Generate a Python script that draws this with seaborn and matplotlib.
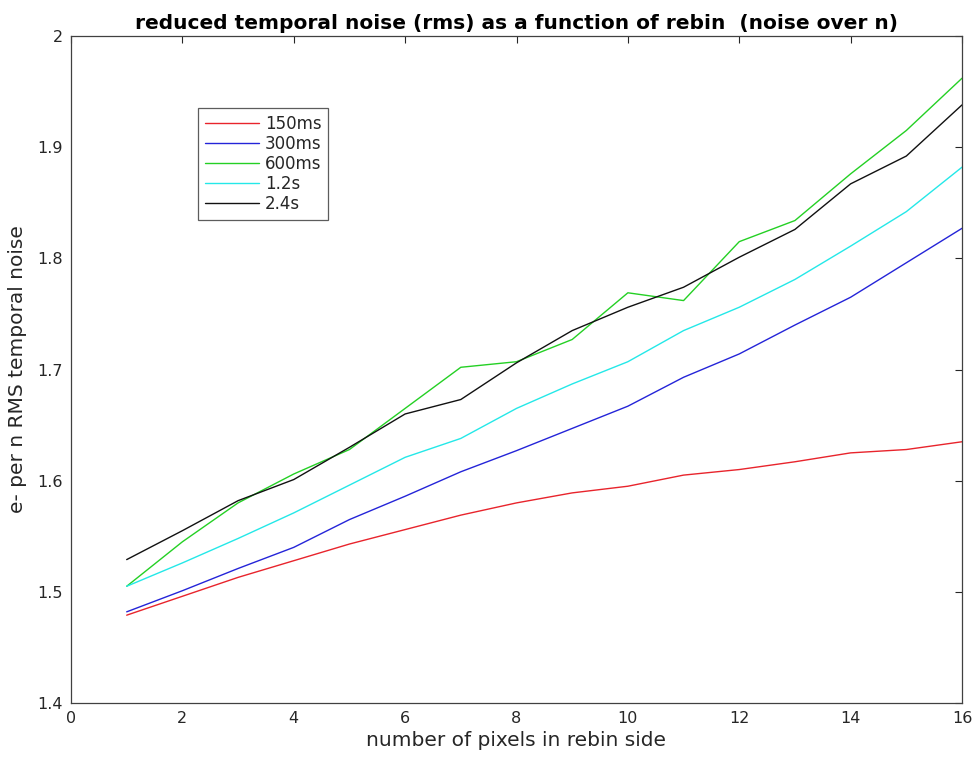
import matplotlib
matplotlib.use("Agg")
import matplotlib.pyplot as plt
import seaborn as sns
import pandas as pd

rebin = list(range(1, 17))
series_names = ["150ms", "300ms", "600ms", "1.2s", "2.4s"]
noise_150ms = [1.479, 1.496, 1.513, 1.528, 1.543, 1.556, 1.569, 1.580, 1.589, 1.595, 1.605, 1.610, 1.617, 1.625, 1.628, 1.635]
noise_300ms = [1.482, 1.501, 1.521, 1.540, 1.565, 1.586, 1.608, 1.627, 1.647, 1.667, 1.693, 1.714, 1.740, 1.765, 1.796, 1.827]
noise_600ms = [1.505, 1.545, 1.580, 1.606, 1.628, 1.665, 1.702, 1.707, 1.727, 1.769, 1.762, 1.815, 1.834, 1.876, 1.915, 1.962]
noise_1_2s = [1.505, 1.526, 1.548, 1.571, 1.596, 1.621, 1.638, 1.665, 1.687, 1.707, 1.735, 1.756, 1.781, 1.811, 1.842, 1.882]
noise_2_4s = [1.529, 1.555, 1.582, 1.601, 1.630, 1.660, 1.673, 1.706, 1.735, 1.756, 1.774, 1.801, 1.826, 1.867, 1.892, 1.938]

colors = {"150ms": "#e8242c", "300ms": "#2424d8", "600ms": "#24d024", "1.2s": "#24e8e8", "2.4s": "#111111"}

rows = []
for name, vals in zip(series_names, [noise_150ms, noise_300ms, noise_600ms, noise_1_2s, noise_2_4s]):
    for x, v in zip(rebin, vals):
        rows.append({"rebin": x, "noise": v, "series": name})
df = pd.DataFrame(rows)

sns.set_style("white")
plt.rcParams["font.family"] = ["DejaVu Sans"]

fig = plt.figure(figsize=(9.76, 7.6), dpi=100)
ax = fig.add_axes([71/976, 1 - 703/760, 891/976, 667/760])

sns.lineplot(data=df, x="rebin", y="noise", hue="series", hue_order=series_names,
             palette=colors, linewidth=1.0, ax=ax, legend=True)

ax.set_xlim(0, 16)
ax.set_ylim(1.4, 2.0)
ax.set_xticks(range(0, 17, 2))
ax.set_yticks([1.4, 1.5, 1.6, 1.7, 1.8, 1.9, 2.0])
ax.set_yticklabels(["1.4", "1.5", "1.6", "1.7", "1.8", "1.9", "2"])
ax.tick_params(direction="in", length=5, width=0.8, colors="#262626", labelsize=11.5,
               top=True, right=True, labeltop=False, labelright=False, pad=6)
for s in ax.spines.values():
    s.set_color("#404040")
    s.set_linewidth(0.9)

ax.set_xlabel("number of pixels in rebin side", fontsize=14.5, color="#262626", labelpad=3)
ax.set_ylabel("e- per n RMS temporal noise", fontsize=14.5, color="#262626", labelpad=7)
ax.set_title("reduced temporal noise (rms) as a function of rebin  (noise over n)",
             fontsize=14.5, fontweight="bold", color="black", pad=5)

leg = ax.legend(loc="upper left", bbox_to_anchor=((198-71)/891, (703-108)/667),
                borderaxespad=0, fontsize=12, frameon=True, fancybox=False,
                handlelength=3.25, handletextpad=0.36, labelspacing=0.13,
                borderpad=0.4, title=None)
leg.get_frame().set_edgecolor("#333333")
leg.get_frame().set_linewidth(0.9)
for line in leg.get_lines():
    line.set_linewidth(1.0)

fig.savefig("out.png", dpi=100)
